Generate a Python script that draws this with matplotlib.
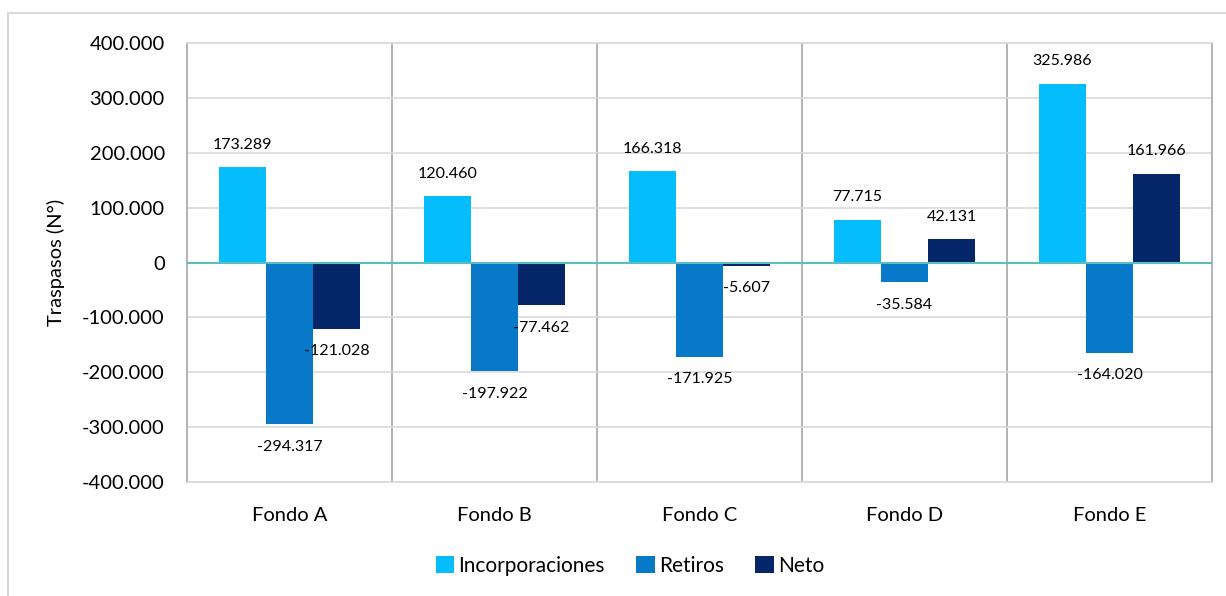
import matplotlib.pyplot as plt
import numpy as np
from matplotlib.patches import Rectangle

categories = ["Fondo A", "Fondo B", "Fondo C", "Fondo D", "Fondo E"]
incorporaciones = [173289, 120460, 166318, 77715, 325986]
retiros = [-294317, -197922, -171925, -35584, -164020]
neto = [-121028, -77462, -5607, 42131, 161966]
series_names = ["Incorporaciones", "Retiros", "Neto"]
colors = ["#05BDFD", "#0878C8", "#06266A"]
yticks = [-400000, -300000, -200000, -100000, 0, 100000, 200000, 300000, 400000]

plt.rcParams['font.family'] = ['Lato', 'DejaVu Sans']

def fmt(v):
    s = f"{abs(v):,.0f}".replace(",", ".")
    return ("-" if v < 0 else "") + s

fig = plt.figure(figsize=(12.26, 5.96), dpi=100)
ax = fig.add_axes([187/1226, 1 - 482/596, (1212 - 187)/1226, (482 - 43)/596])

# outer border
fig.patches.append(Rectangle((8/1226, -0.1), 1.2, 1 - 13/596 + 0.1,
                             transform=fig.transFigure, fill=False,
                             edgecolor="#d9d9d9", linewidth=1.5))

x = np.arange(len(categories))
w = 0.23
data = [incorporaciones, retiros, neto]
for i, (vals, c, name) in enumerate(zip(data, colors, series_names)):
    pos = x + (i - 1) * w
    ax.bar(pos, vals, width=w, color=c, label=name, zorder=3)
    for p, v in zip(pos, vals):
        if v >= 0:
            ax.text(p, v + 41000, fmt(v), ha="center", va="center", fontsize=11.5)
        else:
            ax.text(p, v - 41000, fmt(v), ha="center", va="center", fontsize=11.5)

ax.set_xlim(-0.5, len(categories) - 0.5)
ax.set_ylim(-400000, 400000)
ax.set_yticks(yticks)
ax.set_yticklabels([fmt(v) for v in yticks], fontsize=14.5)
ax.set_xticks(x)
ax.set_xticklabels(categories, fontsize=14.5)
ax.tick_params(axis="both", length=0)
ax.tick_params(axis="x", pad=18)
ax.tick_params(axis="y", pad=16)

ax.grid(axis="y", color="#d9d9d9", linewidth=1.2, zorder=0)
for b in np.arange(0.5, len(categories) - 0.5, 1):
    ax.axvline(b, color="#a6a6a6", linewidth=1.2, zorder=1)
ax.axhline(0, color="#5bbdbd", linewidth=1.5, zorder=4)

for s in ["left", "right"]:
    ax.spines[s].set_color("#a6a6a6")
    ax.spines[s].set_linewidth(1.2)
for s in ["top", "bottom"]:
    ax.spines[s].set_color("#d9d9d9")
    ax.spines[s].set_linewidth(1.2)

ax.set_ylabel("Traspasos (N°)", fontsize=14.5, labelpad=12)

ax.legend(loc="center", bbox_to_anchor=(630/1226, 1 - 566/596),
          bbox_transform=fig.transFigure, ncol=3, frameon=False, fontsize=15,
          handlelength=0.9, handleheight=0.9, handletextpad=0.2, columnspacing=1.5)

fig.savefig("out.png", dpi=100)
